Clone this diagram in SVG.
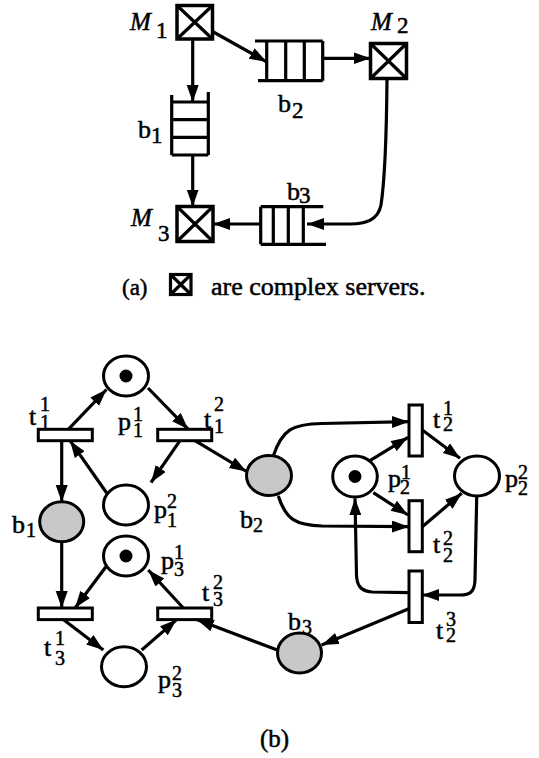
<svg xmlns="http://www.w3.org/2000/svg" width="539" height="758" viewBox="0 0 539 758">
<defs>
<marker id="ah" markerUnits="userSpaceOnUse" markerWidth="19" markerHeight="13" refX="17" refY="6" orient="auto">
<path d="M0,0 L17,6 L0,12 z" fill="#000"/>
</marker>
<marker id="ahA" markerUnits="userSpaceOnUse" markerWidth="19" markerHeight="13" refX="17" refY="6" orient="auto">
<path d="M0,0 L17,6 L0,12 z" fill="#000"/>
</marker>
</defs>
<style>
text{font-family:'Liberation Serif','Times New Roman',serif;fill:#000;stroke:#000;stroke-width:0.5}
.lbl{font-size:26px}
.d{font-size:20px}
.ad{font-size:23px}
.it{font-style:italic;font-size:25px}
.srv{fill:#fff;stroke:#000;stroke-width:3.5}
.q{fill:none;stroke:#000;stroke-width:3.2}
.pl{fill:#fff;stroke:#000;stroke-width:3}
.buf{fill:#c8c8c8;stroke:#000;stroke-width:3}
.tr{fill:#fff;stroke:#000;stroke-width:3}
.arA{fill:none;stroke:#000;stroke-width:3.2;marker-end:url(#ahA)}
.ar{fill:none;stroke:#000;stroke-width:3.2;marker-end:url(#ah)}
</style>
<rect width="539" height="758" fill="#fff"/>

<!-- (a) -->
<g id="M1">
<rect class="srv" x="177" y="5.5" width="35.5" height="33.5"/>
<path class="q" d="M177,5.5 L212.5,39 M212.5,5.5 L177,39"/>
<text x="130" y="30"><tspan class="it">M</tspan><tspan class="ad" x="156" y="38">1</tspan></text>
</g>
<g id="M2">
<rect class="srv" x="370.5" y="43.5" width="36" height="35"/>
<path class="q" d="M370.5,43.5 L406.5,78.5 M406.5,43.5 L370.5,78.5"/>
<text x="371" y="30"><tspan class="it">M</tspan><tspan class="ad" x="397" y="33">2</tspan></text>
</g>
<g id="M3">
<rect class="srv" x="177" y="206.5" width="36" height="35"/>
<path class="q" d="M177,206.5 L213,241.5 M213,206.5 L177,241.5"/>
<text x="131" y="226"><tspan class="it">M</tspan><tspan class="ad" x="158" y="241">3</tspan></text>
</g>
<g id="b1a">
<path class="q" d="M171.7,95 V155 M208.3,92 V155 M171.7,102 H208.3 M171.7,119.7 H208.3 M171.7,137.3 H208.3 M171.7,155 H208.3"/>
<text class="lbl" x="138" y="138">b<tspan class="ad" x="151" y="143">1</tspan></text>
</g>
<g id="b2a">
<path class="q" d="M255,41 H322.7 M258,80.7 H322.7 M322.7,41 V80.7 M266.7,41 V80.7 M285.7,41 V80.7 M304.3,41 V80.7"/>
<text class="lbl" x="278" y="112">b<tspan class="ad" x="292" y="118">2</tspan></text>
</g>
<g id="b3a">
<path class="q" d="M260.7,206.7 H323.3 M260.7,244.3 H326 M260.7,206.7 V244.3 M273.3,206.7 V244.3 M288.3,206.7 V244.3 M303.3,206.7 V244.3"/>
<text class="lbl" x="287" y="200">b<tspan class="ad" x="299" y="203">3</tspan></text>
</g>
<g id="connectors-a">
<path class="arA" d="M212.5,31.5 L266.5,61.8"/>
<path class="arA" d="M322.7,58.3 L370.5,58.3"/>
<path class="arA" d="M192.7,39 L192.7,102"/>
<path class="arA" d="M192.7,155 L192.7,206.5"/>
<path class="arA" d="M387,78.5 C386.5,140 384,185 381,205 C378,220 366,224 350,224 L307,224"/>
<path class="arA" d="M260.7,224 L213,224"/>
</g>
<g id="caption-a">
<text x="122" y="295" style="font-size:23px">(a)</text>
<rect x="170.5" y="274.5" width="20.5" height="20" fill="#fff" stroke="#000" stroke-width="3.2"/>
<path d="M170.5,274.5 L191,294.5 M191,274.5 L170.5,294.5" stroke="#000" stroke-width="3.2"/>
<text x="211" y="295" style="font-size:26px">are complex servers.</text>
</g>

<!-- (b) -->
<g id="connectors-b">
<path class="ar" d="M68.3,429.3 L106.5,389.5"/>
<path class="ar" d="M148,388 L188.3,429.3"/>
<path class="ar" d="M180,440.7 L151,482.5"/>
<path class="ar" d="M106.7,493 L70,440.7"/>
<path class="ar" d="M61.7,440.7 L61.7,502"/>
<path class="ar" d="M195,440.7 L246.5,471.5"/>
<path class="ar" d="M61.7,541.7 L61.7,608"/>
<path class="ar" d="M106,566.7 L75,608"/>
<path class="ar" d="M183.3,608 L148.3,570"/>
<path class="ar" d="M63.3,619.6 L103.3,650"/>
<path class="ar" d="M141.7,650 L176.7,619.6"/>
<path class="ar" d="M277.3,650 L196.7,619.6"/>
<path class="ar" d="M410,608.3 L321.7,645"/>
<path class="ar" d="M273.3,456 C282,430 292,424 322,423.5 L409,421.7"/>
<path class="ar" d="M278.3,496 C286,520 296,525 322,526 L409,526.7"/>
<path class="ar" d="M368.3,461.7 L408,437.3"/>
<path class="ar" d="M373.3,492.7 L408,515"/>
<path class="ar" d="M422.3,430 L460,458.3"/>
<path class="ar" d="M422.3,526.7 L461.7,493.3"/>
<path class="ar" d="M476.7,497 L475,580 C474.5,592 470,595 460,595 L422.3,595"/>
<path class="ar" d="M409,592.7 L372,592 C360,591 357,585 356.5,575 L355,498.3"/>
</g>
<g id="p11">
<ellipse class="pl" cx="126" cy="376" rx="22.5" ry="20"/>
<circle cx="126" cy="376" r="6.5" fill="#000"/>
<text class="lbl" x="118" y="430">p<tspan class="d" x="133" y="421">1</tspan><tspan class="d" x="133" y="437">1</tspan></text>
</g>
<g id="p12">
<ellipse class="pl" cx="126" cy="505" rx="22.5" ry="20"/>
<text class="lbl" x="154" y="518">p<tspan class="d" x="167" y="508">2</tspan><tspan class="d" x="167" y="527">1</tspan></text>
</g>
<g id="t11">
<rect class="tr" x="38.3" y="429.3" width="54" height="11.4"/>
<text class="lbl" x="29" y="425">t<tspan class="d" x="40" y="411">1</tspan><tspan class="d" x="40" y="429">1</tspan></text>
</g>
<g id="t12">
<rect class="tr" x="157.7" y="429.3" width="54" height="11.4"/>
<text class="lbl" x="204" y="428">t<tspan class="d" x="214" y="411">2</tspan><tspan class="d" x="214" y="433">1</tspan></text>
</g>
<g id="b1">
<ellipse class="buf" cx="61.7" cy="521.7" rx="22" ry="20"/>
<text class="lbl" x="12" y="533">b<tspan class="d" x="26" y="537">1</tspan></text>
</g>
<g id="b2">
<ellipse class="buf" cx="269" cy="475.5" rx="22.5" ry="20"/>
<text class="lbl" x="240" y="528">b<tspan class="d" x="253" y="532">2</tspan></text>
</g>
<g id="p31">
<ellipse class="pl" cx="126" cy="556" rx="22.5" ry="20"/>
<circle cx="126" cy="556" r="6.5" fill="#000"/>
<text class="lbl" x="161" y="569">p<tspan class="d" x="174" y="559">1</tspan><tspan class="d" x="174" y="576">3</tspan></text>
</g>
<g id="p32">
<ellipse class="pl" cx="124" cy="666.7" rx="22.5" ry="20"/>
<text class="lbl" x="158" y="688">p<tspan class="d" x="172" y="680">2</tspan><tspan class="d" x="172" y="697">3</tspan></text>
</g>
<g id="t31">
<rect class="tr" x="38.3" y="608" width="54" height="11.6"/>
<text class="lbl" x="44" y="656">t<tspan class="d" x="55" y="645">1</tspan><tspan class="d" x="55" y="665">3</tspan></text>
</g>
<g id="t32">
<rect class="tr" x="157.7" y="608" width="54" height="11.6"/>
<text class="lbl" x="202" y="601">t<tspan class="d" x="213" y="589">2</tspan><tspan class="d" x="213" y="606">3</tspan></text>
</g>
<g id="b3">
<ellipse class="buf" cx="299.5" cy="653" rx="22" ry="20"/>
<text class="lbl" x="288" y="630">b<tspan class="d" x="302" y="634">3</tspan></text>
</g>
<g id="p21">
<ellipse class="pl" cx="355" cy="476.5" rx="22.3" ry="20.5"/>
<circle cx="355" cy="476.5" r="6.5" fill="#000"/>
<text class="lbl" x="388" y="487">p<tspan class="d" x="401" y="479">1</tspan><tspan class="d" x="400" y="494">2</tspan></text>
</g>
<g id="p22">
<ellipse class="pl" cx="477" cy="476" rx="22.5" ry="20"/>
<text class="lbl" x="505" y="487">p<tspan class="d" x="518" y="479">2</tspan><tspan class="d" x="518" y="495">2</tspan></text>
</g>
<g id="t21">
<rect class="tr" x="409" y="405" width="13.3" height="51"/>
<text class="lbl" x="433" y="428">t<tspan class="d" x="443" y="415">1</tspan><tspan class="d" x="443" y="431">2</tspan></text>
</g>
<g id="t22">
<rect class="tr" x="409" y="500.7" width="13.3" height="51"/>
<text class="lbl" x="433" y="553">t<tspan class="d" x="443" y="545">2</tspan><tspan class="d" x="443" y="562">2</tspan></text>
</g>
<g id="t23">
<rect class="tr" x="409" y="571" width="13.3" height="51.5"/>
<text class="lbl" x="436" y="639">t<tspan class="d" x="446" y="626">3</tspan><tspan class="d" x="446" y="642">2</tspan></text>
</g>
<text x="260" y="747" style="font-size:25px">(b)</text>
</svg>
